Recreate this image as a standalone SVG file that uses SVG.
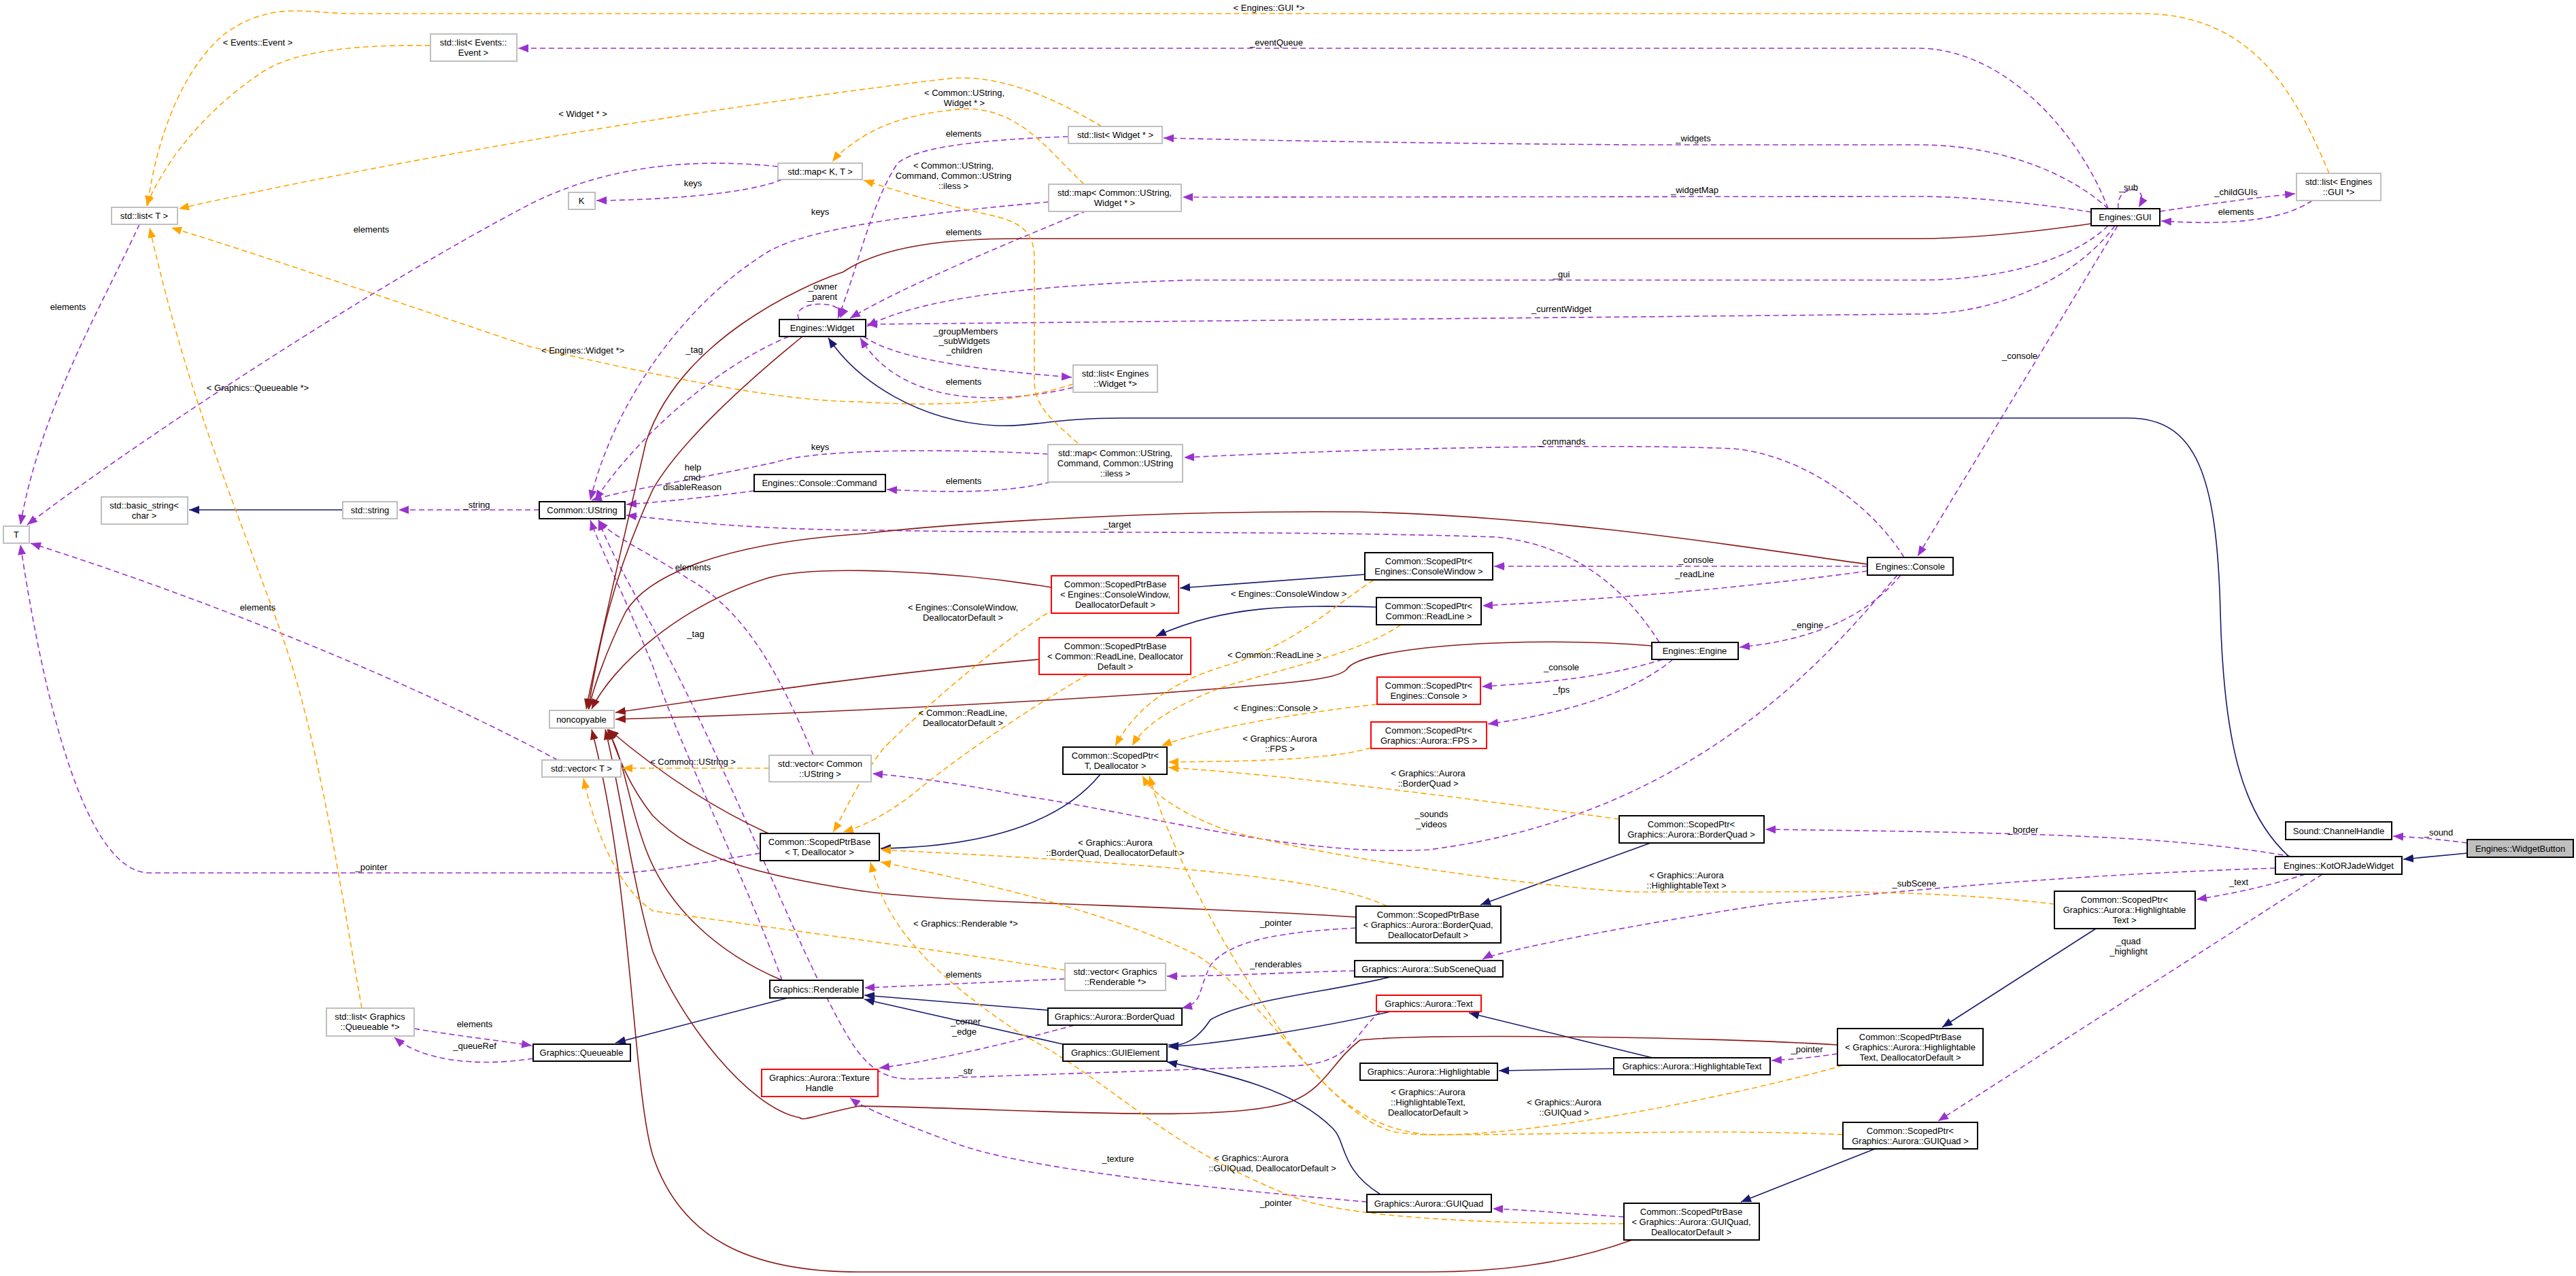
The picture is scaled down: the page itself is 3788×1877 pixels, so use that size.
<svg xmlns="http://www.w3.org/2000/svg" width="3788" height="1877" viewBox="0 0 3788 1877">
<style>
text{font-family:"Liberation Sans",Arial,sans-serif;font-size:13px;fill:#000;text-anchor:middle}
.n rect{fill:#fff;stroke:#000;stroke-width:2}
.g rect{stroke:#bfbfbf}
.rd rect{stroke:#ff0000}
.e path{fill:none;stroke-width:1.6}
.p{stroke:#9a32cd;stroke-dasharray:8,5;marker-end:url(#ap)}
.o{stroke:#ffa500;stroke-dasharray:8,5;marker-end:url(#ao)}
.b{stroke:#191970;marker-end:url(#ab)}
.r{stroke:#8b1a1a;marker-end:url(#ar)}
</style>
<defs>
<marker id="ap" markerUnits="userSpaceOnUse" markerWidth="16" markerHeight="12" refX="15" refY="6" orient="auto"><path d="M0,0 L15,6 L0,12 z" fill="#9a32cd"/></marker>
<marker id="ao" markerUnits="userSpaceOnUse" markerWidth="16" markerHeight="12" refX="15" refY="6" orient="auto"><path d="M0,0 L15,6 L0,12 z" fill="#ffa500"/></marker>
<marker id="ab" markerUnits="userSpaceOnUse" markerWidth="16" markerHeight="12" refX="15" refY="6" orient="auto"><path d="M0,0 L15,6 L0,12 z" fill="#191970"/></marker>
<marker id="ar" markerUnits="userSpaceOnUse" markerWidth="16" markerHeight="12" refX="15" refY="6" orient="auto"><path d="M0,0 L15,6 L0,12 z" fill="#8b1a1a"/></marker>
</defs>
<rect width="3788" height="1877" fill="#fff"/>
<g id="edges" class="e">
<path class="p" d="M3100,307 C3060,200 2950,71 2820,71 L762,71"/>
<path class="p" d="M205,330 C150,450 60,600 30,772"/>
<path class="p" d="M1144,245 C1000,230 880,250 780,300 C550,420 200,650 40,772"/>
<path class="p" d="M1150,264 C1100,285 980,294 877,295"/>
<path class="p" d="M1571,201 C1450,205 1350,215 1320,240 C1280,300 1260,400 1232,468"/>
<path class="p" d="M1542,297 C1400,310 1200,330 1130,370 C1000,450 900,600 868,736"/>
<path class="p" d="M1598,310 C1500,350 1330,420 1250,468"/>
<path class="p" d="M1175,470 C1160,440 1250,440 1235,468"/>
<path class="p" d="M1160,495 C1050,540 930,650 875,736"/>
<path class="p" d="M1578,570 C1450,600 1320,590 1265,497"/>
<path class="p" d="M1270,495 C1320,530 1450,545 1576,555"/>
<path class="p" d="M3100,307 C3050,260 2950,213 2820,213 L2400,213 C2000,210 1800,205 1711,203"/>
<path class="p" d="M3075,312 C3000,300 2900,289 2820,289 L1739,290"/>
<path class="p" d="M3100,332 C3050,380 2950,412 2820,412 L1750,412 C1500,420 1350,440 1275,480"/>
<path class="p" d="M3110,332 C3060,400 2950,462 2820,462 L1275,477"/>
<path class="p" d="M3115,307 C3110,270 3165,270 3145,305"/>
<path class="p" d="M3176,311 C3250,300 3320,290 3375,285"/>
<path class="p" d="M3400,295 C3350,330 3250,330 3178,325"/>
<path class="p" d="M3114,332 L2820,818"/>
<path class="p" d="M2800,820 C2750,740 2650,670 2550,660 C2300,650 1900,665 1741,673"/>
<path class="p" d="M1541,668 C1400,660 1200,660 1140,680 C1000,710 920,720 870,736"/>
<path class="p" d="M1545,709 C1480,725 1400,725 1304,720"/>
<path class="p" d="M1109,722 C1050,730 980,738 921,742"/>
<path class="p" d="M793,750 L586,750"/>
<path class="p" d="M2746,833 L2197,833"/>
<path class="p" d="M2746,840 C2600,860 2400,880 2180,891"/>
<path class="p" d="M2440,945 C2380,850 2300,800 2200,790 C1900,780 1500,785 1300,780 C1100,780 990,765 921,758"/>
<path class="p" d="M2795,846 C2750,900 2680,940 2558,952"/>
<path class="p" d="M2445,970 C2350,1000 2250,1005 2179,1010"/>
<path class="p" d="M2460,970 C2400,1020 2300,1050 2188,1065"/>
<path class="p" d="M2790,846 C2700,950 2500,1200 2100,1250 C1900,1260 1700,1200 1500,1170 C1400,1150 1320,1141 1283,1138"/>
<path class="p" d="M1118,1255 C1000,1275 950,1284 900,1284 L220,1284 C120,1284 60,1000 30,801"/>
<path class="p" d="M820,1118 C600,1000 300,880 45,799"/>
<path class="p" d="M1196,1111 C1150,1000 1100,900 1010,850 C950,810 900,790 880,765"/>
<path class="p" d="M1150,1442 C1100,1300 1000,1100 960,980 C920,880 880,800 868,765"/>
<path class="p" d="M609,1513 C680,1525 730,1530 782,1538"/>
<path class="p" d="M784,1557 C700,1570 620,1560 580,1526"/>
<path class="p" d="M1566,1440 C1450,1445 1350,1450 1271,1453"/>
<path class="p" d="M1992,1428 C1900,1430 1800,1436 1716,1436"/>
<path class="p" d="M1994,1365 C1900,1370 1810,1380 1780,1420 C1760,1460 1770,1475 1738,1483"/>
<path class="p" d="M1580,1508 C1500,1530 1380,1560 1293,1571"/>
<path class="p" d="M2030,1488 C1990,1520 1990,1565 1900,1568 L1350,1587 C1300,1590 1280,1570 1260,1545 C1200,1460 1100,1200 1000,1000 C950,900 900,820 880,765"/>
<path class="p" d="M2010,1768 C1800,1750 1500,1720 1400,1680 C1320,1650 1270,1630 1250,1615"/>
<path class="p" d="M2388,1790 C2300,1785 2250,1780 2195,1778"/>
<path class="p" d="M2702,1550 C2670,1555 2640,1558 2605,1560"/>
<path class="p" d="M3370,1260 C3200,1230 3000,1225 2596,1220"/>
<path class="p" d="M3346,1277 C3100,1285 2900,1300 2600,1330 C2400,1360 2200,1400 2180,1411"/>
<path class="p" d="M3390,1286 C3330,1305 3280,1315 3230,1323"/>
<path class="p" d="M3415,1286 L2850,1649"/>
<path class="p" d="M3628,1240 C3590,1235 3560,1232 3519,1230"/>
<path class="b" d="M504,750 L278,750"/>
<path class="b" d="M3628,1255 L3534,1264"/>
<path class="b" d="M3366,1260 C3300,1200 3270,1100 3265,900 C3260,700 3230,615 3130,615 L1650,615 C1550,615 1520,628 1464,626 C1350,620 1260,560 1218,497"/>
<path class="b" d="M2007,845 L1735,865"/>
<path class="b" d="M2024,893 C1900,890 1800,890 1700,936"/>
<path class="b" d="M1618,1139 C1560,1210 1450,1245 1295,1248"/>
<path class="b" d="M2427,1240 L2177,1331"/>
<path class="b" d="M3082,1366 L2856,1511"/>
<path class="b" d="M2757,1690 L2560,1768"/>
<path class="b" d="M1158,1468 L905,1534"/>
<path class="b" d="M1541,1486 L1271,1464"/>
<path class="b" d="M1563,1536 L1271,1470"/>
<path class="b" d="M2045,1437 C1950,1460 1830,1470 1780,1500 C1760,1530 1740,1540 1718,1537"/>
<path class="b" d="M2045,1488 C1950,1510 1800,1535 1718,1540"/>
<path class="b" d="M2373,1572 L2204,1575"/>
<path class="b" d="M2430,1556 L2160,1490"/>
<path class="b" d="M2030,1757 C1970,1720 1980,1680 1960,1660 C1900,1600 1800,1580 1716,1562"/>
<path class="r" d="M3075,329 C3000,340 2900,351 2820,351 L1500,351 C1400,351 1300,360 1240,400 C1180,420 1000,500 950,650 C920,780 880,950 862,1043"/>
<path class="r" d="M1180,495 C1100,560 1000,650 960,720 C900,850 880,950 865,1043"/>
<path class="r" d="M2746,830 C2600,810 2300,760 2000,753 C1700,750 1400,770 1270,785 C1050,800 950,850 920,900 C890,960 870,1020 866,1043"/>
<path class="r" d="M2429,950 C2250,935 2000,950 1980,985 C1965,1000 1900,1005 1700,1020 C1400,1040 1100,1052 905,1058"/>
<path class="r" d="M1528,970 C1300,990 1100,1020 905,1048"/>
<path class="r" d="M1546,864 C1400,840 1200,830 1130,850 C1000,890 900,980 870,1043"/>
<path class="r" d="M1130,1226 C1030,1180 950,1120 895,1073"/>
<path class="r" d="M1994,1349 C1700,1330 1400,1330 1263,1310 C1100,1285 1020,1260 960,1200 C920,1150 905,1100 895,1073"/>
<path class="r" d="M1150,1442 C1050,1400 980,1330 950,1250 C920,1170 920,1120 893,1073"/>
<path class="r" d="M2702,1537 C2500,1525 2100,1520 2000,1530 C1960,1560 1950,1600 1900,1620 C1800,1655 1500,1630 1263,1627 C1200,1640 1180,1650 1176,1644 C1100,1630 1000,1500 960,1400 C930,1300 910,1150 890,1073"/>
<path class="r" d="M2400,1824 C2300,1860 2200,1871 2100,1871 L1263,1871 C1100,1871 1000,1820 960,1700 C930,1600 930,1300 870,1073"/>
<path class="o" d="M633,67 C500,65 420,80 380,110 C320,150 250,220 215,303"/>
<path class="o" d="M3425,255 C3380,150 3320,20 3150,20 L520,20 C450,20 400,0 330,50 C270,100 230,200 217,303"/>
<path class="o" d="M1620,186 C1560,150 1480,110 1400,115 C1100,150 600,230 263,307"/>
<path class="o" d="M1578,565 C1500,590 1400,600 1263,591 C1150,590 1000,560 780,510 C600,450 400,380 252,335"/>
<path class="o" d="M532,1483 C500,1300 470,1100 420,950 C350,750 280,600 220,335"/>
<path class="o" d="M1594,271 C1540,220 1500,160 1420,160 C1350,165 1300,180 1263,205 C1240,220 1230,230 1224,238"/>
<path class="o" d="M1585,652 C1550,620 1521,600 1521,560 L1521,380 C1521,340 1500,325 1450,315 C1380,300 1300,275 1270,265"/>
<path class="o" d="M1131,1130 L915,1130"/>
<path class="o" d="M1566,1427 C1400,1400 1100,1360 960,1340 C900,1300 870,1200 858,1145"/>
<path class="o" d="M2020,853 C1950,900 1900,950 1800,980 C1700,1010 1660,1060 1640,1097"/>
<path class="o" d="M2060,919 C2000,960 1900,980 1800,1010 C1720,1040 1680,1070 1665,1097"/>
<path class="o" d="M2025,1036 C1900,1050 1780,1070 1708,1097"/>
<path class="o" d="M2016,1100 C1950,1120 1800,1120 1718,1121"/>
<path class="o" d="M2381,1205 C2200,1180 1900,1140 1718,1129"/>
<path class="o" d="M3021,1330 C2900,1315 2750,1310 2600,1312 L2400,1312 C2200,1300 1900,1250 1800,1220 C1720,1190 1690,1160 1680,1141"/>
<path class="o" d="M2710,1669 C2500,1660 2300,1670 2100,1669 C2000,1660 1950,1600 1900,1540 C1800,1400 1720,1250 1690,1141"/>
<path class="o" d="M1540,902 C1450,960 1350,1050 1300,1100 C1260,1150 1240,1200 1225,1224"/>
<path class="o" d="M1600,992 C1500,1050 1400,1120 1340,1170 C1300,1200 1270,1215 1240,1224"/>
<path class="o" d="M2040,1333 C1950,1290 1700,1270 1295,1250"/>
<path class="o" d="M2710,1567 C2600,1600 2200,1690 2050,1665 C1950,1640 1850,1450 1750,1400 C1600,1330 1400,1290 1295,1268"/>
<path class="o" d="M2388,1800 C2300,1800 2000,1800 1900,1760 C1700,1680 1650,1600 1500,1520 C1350,1420 1300,1350 1280,1268"/>
</g>
<g id="labels">
<text x="1866" y="16">&lt; Engines::GUI *&gt;</text>
<text x="1877" y="67">_eventQueue</text>
<text x="379" y="67">&lt; Events::Event &gt;</text>
<text x="857" y="172">&lt; Widget * &gt;</text>
<text x="546" y="342">elements</text>
<text x="1019" y="274">keys</text>
<text x="1206" y="316">keys</text>
<text x="100" y="456">elements</text>
<text x="1418" y="141">&lt; Common::UString,</text><text x="1418" y="156">Widget * &gt;</text>
<text x="1417" y="201">elements</text>
<text x="2490" y="208">_widgets</text>
<text x="1402" y="248">&lt; Common::UString,</text><text x="1402" y="263">Command, Common::UString</text><text x="1402" y="278">::iless &gt;</text>
<text x="2492" y="284">_widgetMap</text>
<text x="1417" y="346">elements</text>
<text x="3130" y="280">_sub</text>
<text x="3288" y="287">_childGUIs</text>
<text x="3288" y="316">elements</text>
<text x="2296" y="408">_gui</text>
<text x="1210" y="426">_owner</text><text x="1209" y="441">_parent</text>
<text x="2296" y="459">_currentWidget</text>
<text x="1420" y="492">_groupMembers</text><text x="1418" y="506">_subWidgets</text><text x="1418" y="520">_children</text>
<text x="1021" y="519">_tag</text>
<text x="857" y="520">&lt; Engines::Widget *&gt;</text>
<text x="1417" y="566">elements</text>
<text x="379" y="575">&lt; Graphics::Queueable *&gt;</text>
<text x="2970" y="528">_console</text>
<text x="2296" y="654">_commands</text>
<text x="1206" y="662">keys</text>
<text x="1417" y="712">elements</text>
<text x="1019" y="692">help</text><text x="1018" y="707">cmd</text><text x="1018" y="721">disableReason</text>
<text x="701" y="747">_string</text>
<text x="1643" y="776">_target</text>
<text x="2494" y="828">_console</text>
<text x="2492" y="849">_readLine</text>
<text x="1895" y="878">&lt; Engines::ConsoleWindow &gt;</text>
<text x="1416" y="898">&lt; Engines::ConsoleWindow,</text><text x="1416" y="913">DeallocatorDefault &gt;</text>
<text x="2658" y="924">_engine</text>
<text x="1874" y="968">&lt; Common::ReadLine &gt;</text>
<text x="2296" y="986">_console</text>
<text x="2296" y="1019">_fps</text>
<text x="1416" y="1053">&lt; Common::ReadLine,</text><text x="1416" y="1068">DeallocatorDefault &gt;</text>
<text x="1876" y="1046">&lt; Engines::Console &gt;</text>
<text x="1882" y="1091">&lt; Graphics::Aurora</text><text x="1882" y="1106">::FPS &gt;</text>
<text x="379" y="898">elements</text>
<text x="1019" y="839">elements</text>
<text x="1023" y="937">_tag</text>
<text x="1019" y="1125">&lt; Common::UString &gt;</text>
<text x="2100" y="1142">&lt; Graphics::Aurora</text><text x="2100" y="1157">::BorderQuad &gt;</text>
<text x="2105" y="1202">_sounds</text><text x="2105" y="1217">_videos</text>
<text x="2975" y="1225">_border</text>
<text x="3586" y="1229">_sound</text>
<text x="1640" y="1244">&lt; Graphics::Aurora</text><text x="1640" y="1259">::BorderQuad, DeallocatorDefault &gt;</text>
<text x="546" y="1280">_pointer</text>
<text x="2480" y="1292">&lt; Graphics::Aurora</text><text x="2480" y="1307">::HighlightableText &gt;</text>
<text x="2815" y="1304">_subScene</text>
<text x="3292" y="1302">_text</text>
<text x="1420" y="1363">&lt; Graphics::Renderable *&gt;</text>
<text x="1876" y="1362">_pointer</text>
<text x="3130" y="1389">_quad</text><text x="3130" y="1404">_highlight</text>
<text x="1876" y="1423">_renderables</text>
<text x="1417" y="1438">elements</text>
<text x="698" y="1511">elements</text>
<text x="1420" y="1507">_corner</text><text x="1418" y="1522">_edge</text>
<text x="698" y="1543">_queueRef</text>
<text x="2657" y="1548">_pointer</text>
<text x="1420" y="1580">_str</text>
<text x="2100" y="1611">&lt; Graphics::Aurora</text><text x="2100" y="1626">::HighlightableText,</text><text x="2100" y="1641">DeallocatorDefault &gt;</text>
<text x="2300" y="1626">&lt; Graphics::Aurora</text><text x="2300" y="1641">::GUIQuad &gt;</text>
<text x="1644" y="1709">_texture</text>
<text x="1840" y="1708">&lt; Graphics::Aurora</text><text x="1871" y="1723">::GUIQuad, DeallocatorDefault &gt;</text>
<text x="1876" y="1774">_pointer</text>
</g>
<g id="n1" class="n g"><rect x="633" y="50" width="127" height="40"/><text x="696" y="67">std::list&lt; Events::</text><text x="696" y="82">Event &gt;</text></g>
<g id="n2" class="n g"><rect x="164" y="305" width="97" height="25"/><text x="212" y="322">std::list&lt; T &gt;</text></g>
<g id="n3" class="n g"><rect x="1144" y="240" width="124" height="24"/><text x="1206" y="257">std::map&lt; K, T &gt;</text></g>
<g id="n4" class="n g"><rect x="836" y="283" width="39" height="25"/><text x="855" y="300">K</text></g>
<g id="n5" class="n"><rect x="1146" y="470" width="127" height="25"/><text x="1209" y="487">Engines::Widget</text></g>
<g id="n6" class="n g"><rect x="149" y="731" width="127" height="40"/><text x="212" y="748">std::basic_string&lt;</text><text x="212" y="763">char &gt;</text></g>
<g id="n7" class="n g"><rect x="504" y="738" width="80" height="25"/><text x="544" y="755">std::string</text></g>
<g id="n8" class="n"><rect x="793" y="738" width="126" height="25"/><text x="856" y="755">Common::UString</text></g>
<g id="n9" class="n g"><rect x="5" y="774" width="38" height="25"/><text x="24" y="791">T</text></g>
<g id="n10" class="n"><rect x="1109" y="698" width="193" height="25"/><text x="1205" y="715">Engines::Console::Command</text></g>
<g id="n11" class="n g"><rect x="1571" y="186" width="138" height="25"/><text x="1640" y="203">std::list&lt; Widget * &gt;</text></g>
<g id="n12" class="n g"><rect x="1542" y="271" width="195" height="40"/><text x="1639" y="288">std::map&lt; Common::UString,</text><text x="1639" y="303">Widget * &gt;</text></g>
<g id="n13" class="n g"><rect x="1578" y="537" width="124" height="40"/><text x="1640" y="554">std::list&lt; Engines</text><text x="1640" y="569">::Widget *&gt;</text></g>
<g id="n14" class="n g"><rect x="1541" y="654" width="198" height="55"/><text x="1640" y="671">std::map&lt; Common::UString,</text><text x="1640" y="686">Command, Common::UString</text><text x="1640" y="701">::iless &gt;</text></g>
<g id="n15" class="n"><rect x="2007" y="813" width="188" height="40"/><text x="2101" y="830">Common::ScopedPtr&lt;</text><text x="2101" y="845">Engines::ConsoleWindow &gt;</text></g>
<g id="n16" class="n"><rect x="2024" y="879" width="154" height="40"/><text x="2101" y="896">Common::ScopedPtr&lt;</text><text x="2101" y="911">Common::ReadLine &gt;</text></g>
<g id="n17" class="n rd"><rect x="1546" y="847" width="187" height="55"/><text x="1640" y="864">Common::ScopedPtrBase</text><text x="1640" y="879">&lt; Engines::ConsoleWindow,</text><text x="1640" y="894">DeallocatorDefault &gt;</text></g>
<g id="n18" class="n rd"><rect x="1528" y="938" width="223" height="54"/><text x="1640" y="955">Common::ScopedPtrBase</text><text x="1640" y="970">&lt; Common::ReadLine, Deallocator</text><text x="1640" y="985">Default &gt;</text></g>
<g id="n19" class="n"><rect x="3075" y="307" width="101" height="25"/><text x="3125" y="324">Engines::GUI</text></g>
<g id="n20" class="n g"><rect x="3377" y="255" width="124" height="40"/><text x="3439" y="272">std::list&lt; Engines</text><text x="3439" y="287">::GUI *&gt;</text></g>
<g id="n21" class="n"><rect x="2746" y="820" width="126" height="26"/><text x="2809" y="838">Engines::Console</text></g>
<g id="n22" class="n"><rect x="2429" y="945" width="127" height="25"/><text x="2492" y="962">Engines::Engine</text></g>
<g id="n23" class="n rd"><rect x="2025" y="996" width="152" height="40"/><text x="2101" y="1013">Common::ScopedPtr&lt;</text><text x="2101" y="1028">Engines::Console &gt;</text></g>
<g id="n24" class="n rd"><rect x="2016" y="1062" width="170" height="39"/><text x="2101" y="1079">Common::ScopedPtr&lt;</text><text x="2101" y="1094">Graphics::Aurora::FPS &gt;</text></g>
<g id="n25" class="n"><rect x="1563" y="1099" width="153" height="40"/><text x="1640" y="1116">Common::ScopedPtr&lt;</text><text x="1640" y="1131">T, Deallocator &gt;</text></g>
<g id="n26" class="n"><rect x="1118" y="1226" width="175" height="40"/><text x="1205" y="1243">Common::ScopedPtrBase</text><text x="1205" y="1258">&lt; T, Deallocator &gt;</text></g>
<g id="n27" class="n"><rect x="2381" y="1200" width="213" height="40"/><text x="2487" y="1217">Common::ScopedPtr&lt;</text><text x="2487" y="1232">Graphics::Aurora::BorderQuad &gt;</text></g>
<g id="n28" class="n"><rect x="1994" y="1333" width="213" height="54"/><text x="2100" y="1350">Common::ScopedPtrBase</text><text x="2100" y="1365">&lt; Graphics::Aurora::BorderQuad,</text><text x="2100" y="1380">DeallocatorDefault &gt;</text></g>
<g id="n29" class="n"><rect x="1992" y="1413" width="218" height="24"/><text x="2101" y="1430">Graphics::Aurora::SubSceneQuad</text></g>
<g id="n30" class="n g"><rect x="1566" y="1417" width="148" height="40"/><text x="1640" y="1434">std::vector&lt; Graphics</text><text x="1640" y="1449">::Renderable *&gt;</text></g>
<g id="n31" class="n"><rect x="1541" y="1483" width="197" height="25"/><text x="1639" y="1500">Graphics::Aurora::BorderQuad</text></g>
<g id="n32" class="n"><rect x="1563" y="1536" width="153" height="25"/><text x="1640" y="1553">Graphics::GUIElement</text></g>
<g id="n33" class="n rd"><rect x="2024" y="1464" width="154" height="24"/><text x="2101" y="1481">Graphics::Aurora::Text</text></g>
<g id="n34" class="n"><rect x="2000" y="1564" width="202" height="25"/><text x="2101" y="1581">Graphics::Aurora::Highlightable</text></g>
<g id="n35" class="n"><rect x="2373" y="1556" width="230" height="25"/><text x="2488" y="1573">Graphics::Aurora::HighlightableText</text></g>
<g id="n36" class="n"><rect x="2010" y="1757" width="183" height="26"/><text x="2101" y="1775">Graphics::Aurora::GUIQuad</text></g>
<g id="n37" class="n"><rect x="2388" y="1770" width="199" height="54"/><text x="2487" y="1787">Common::ScopedPtrBase</text><text x="2487" y="1802">&lt; Graphics::Aurora::GUIQuad,</text><text x="2487" y="1817">DeallocatorDefault &gt;</text></g>
<g id="n38" class="n g"><rect x="808" y="1045" width="95" height="26"/><text x="855" y="1063">noncopyable</text></g>
<g id="n39" class="n g"><rect x="797" y="1118" width="116" height="25"/><text x="855" y="1135">std::vector&lt; T &gt;</text></g>
<g id="n40" class="n g"><rect x="1131" y="1111" width="150" height="39"/><text x="1206" y="1128">std::vector&lt; Common</text><text x="1206" y="1143">::UString &gt;</text></g>
<g id="n41" class="n"><rect x="1132" y="1442" width="137" height="26"/><text x="1200" y="1460">Graphics::Renderable</text></g>
<g id="n42" class="n g"><rect x="480" y="1483" width="129" height="41"/><text x="544" y="1500">std::list&lt; Graphics</text><text x="544" y="1515">::Queueable *&gt;</text></g>
<g id="n43" class="n"><rect x="784" y="1536" width="143" height="25"/><text x="855" y="1553">Graphics::Queueable</text></g>
<g id="n44" class="n rd"><rect x="1120" y="1573" width="171" height="40"/><text x="1205" y="1590">Graphics::Aurora::Texture</text><text x="1205" y="1605">Handle</text></g>
<g id="n45" class="n"><rect x="3361" y="1209" width="156" height="26"/><text x="3439" y="1227">Sound::ChannelHandle</text></g>
<g id="n46" class="n"><rect x="3628" y="1235" width="156" height="26" style="fill:#bfbfbf"/><text x="3706" y="1253">Engines::WidgetButton</text></g>
<g id="n47" class="n"><rect x="3346" y="1260" width="186" height="26"/><text x="3439" y="1278">Engines::KotORJadeWidget</text></g>
<g id="n48" class="n"><rect x="3021" y="1311" width="207" height="55"/><text x="3124" y="1328">Common::ScopedPtr&lt;</text><text x="3124" y="1343">Graphics::Aurora::Highlightable</text><text x="3124" y="1358">Text &gt;</text></g>
<g id="n49" class="n"><rect x="2702" y="1513" width="214" height="54"/><text x="2809" y="1530">Common::ScopedPtrBase</text><text x="2809" y="1545">&lt; Graphics::Aurora::Highlightable</text><text x="2809" y="1560">Text, DeallocatorDefault &gt;</text></g>
<g id="n50" class="n"><rect x="2710" y="1651" width="198" height="39"/><text x="2809" y="1668">Common::ScopedPtr&lt;</text><text x="2809" y="1683">Graphics::Aurora::GUIQuad &gt;</text></g>
</svg>
